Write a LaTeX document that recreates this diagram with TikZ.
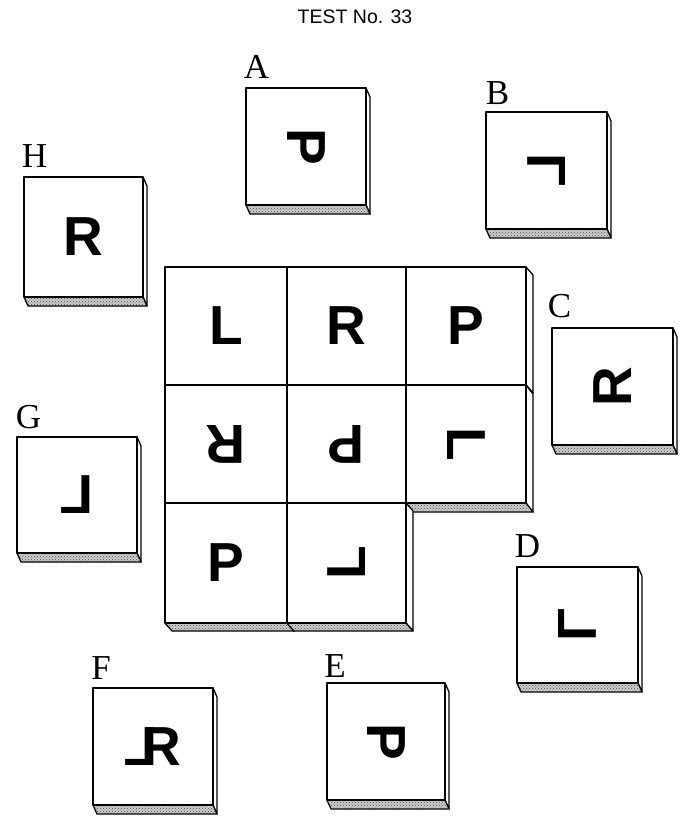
\documentclass[tikz,border=0pt]{standalone}
\usepackage{fontspec}
\usepackage{graphicx}
\setmainfont{Liberation Serif}
\newfontfamily\glyphfont{Liberation Sans}
\usetikzlibrary{patterns}

\tikzset{
  face/.style={draw=black, fill=white, line width=1.7pt, line join=round},
  sideface/.style={draw=black, fill=white, line width=1.3pt, line join=round},
  botface/.style={draw=black, fill=gray!40, line width=1.3pt, line join=round,
    postaction={pattern=crosshatch dots, pattern color=black!70}},
  glyph/.style={inner sep=0pt, font=\glyphfont\bfseries\fontsize{55}{55}\selectfont},
  lbl/.style={inner sep=0pt, font=\fontsize{35}{35}\selectfont},
  ttl/.style={inner sep=0pt, font=\glyphfont\fontsize{19.5}{19.5}\selectfont},
}

% #1 name, #2 x1, #3 y1, #4 x2, #5 y2 (pixel, y downwards), #6 dx, #7 dy
\newcommand{\slab}[7]{%
  \filldraw[sideface] (#4,-#3) -- ({#4+#6},{-#3-#7}) -- ({#4+#6},{-#5-#7}) -- (#4,-#5) -- cycle;
  \filldraw[botface] (#2,-#5) -- (#4,-#5) -- ({#4+#6},{-#5-#7}) -- ({#2+#6},{-#5-#7}) -- cycle;
  \draw[face] (#2,-#3) rectangle (#4,-#5);
  \coordinate (#1) at ({(#2+#4)/2},{-(#3+#5)/2});
}

\begin{document}
\begin{tikzpicture}[x=1pt,y=1pt]
\useasboundingbox (0,0) rectangle (690,-840);
\fill[white] (0,0) rectangle (690,-840);

% title
\node[ttl] (title) at (355,-17) {TEST No. 33};

% loose tiles
\slab{A}{246}{88}{366}{205}{4}{9}
\slab{B}{486}{112}{607}{229}{4}{9}
\slab{H}{24}{177}{143}{297}{4}{9}
\slab{C}{552}{328}{673}{445}{4}{9}
\slab{G}{17}{437}{137}{553}{4}{9}
\slab{D}{517}{567}{638}{683}{4}{9}
\slab{F}{93}{688}{213}{805}{4}{9}
\slab{E}{327}{683}{445}{800}{4}{9}

\node[glyph, rotate=-90] (gA) at (A) {P};
\node[glyph, rotate=90] (gB) at (B) {\reflectbox{L}};
\node[glyph] (gH) at (H) {R};
\node[glyph, rotate=90] (gC) at (C) {R};
\node[glyph] (gG) at (G) {\reflectbox{L}};
\node[glyph, rotate=-90] (gD) at (D) {\reflectbox{L}};
\node[glyph] (gF) at (F) {\reflectbox{L}\kern-0.29em R};
\node[glyph, rotate=-90] (gE) at (E) {P};

% labels
\node[lbl] (lA) at (256.5,-67) {A};
\node[lbl] (lB) at (497.5,-93.5) {B};
\node[lbl] (lH) at (34.5,-156.5) {H};
\node[lbl] (lC) at (559.5,-306.5) {C};
\node[lbl] (lG) at (28.5,-417) {G};
\node[lbl] (lD) at (527.5,-546.5) {D};
\node[lbl] (lF) at (101,-668.5) {F};
\node[lbl] (lE) at (335,-666) {E};

% central grid
\slab{g11}{165}{267}{287}{385}{7}{8}
\slab{g12}{287}{267}{406}{385}{7}{8}
\slab{g13}{406}{267}{526}{385}{7}{8}
\slab{g21}{165}{385}{287}{503}{7}{8}
\slab{g22}{287}{385}{406}{503}{7}{8}
\slab{g23}{406}{385}{526}{503}{7}{9}
\slab{g31}{165}{503}{287}{623}{7}{8}
\slab{g32}{287}{503}{406}{623}{7}{8}

\node[glyph] (c11) at (g11) {L};
\node[glyph] (c12) at (g12) {R};
\node[glyph] (c13) at (g13) {P};
\node[glyph, rotate=180] (c21) at (g21) {R};
\node[glyph, rotate=180] (c22) at (g22) {P};
\node[glyph, rotate=-90] (c23) at (g23) {L};
\node[glyph] (c31) at (g31) {P};
\node[glyph, rotate=90] (c32) at (g32) {L};
\end{tikzpicture}
\end{document}
